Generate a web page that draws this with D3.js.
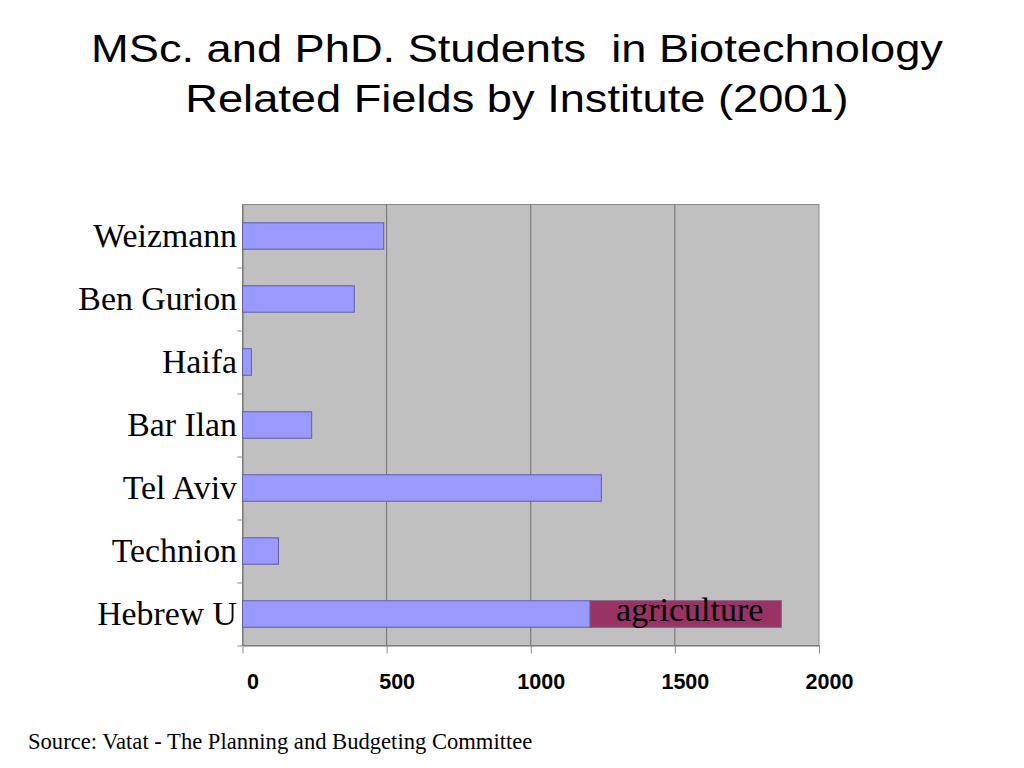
<!DOCTYPE html>
<html>
<head>
<meta charset="utf-8">
<script src="https://cdn.jsdelivr.net/npm/d3@7"></script>
<style>
  body { margin: 0; background: #fff; }
  svg { display: block; }
  text { white-space: pre; }
</style>
</head>
<body>
<svg id="chart" width="1024" height="768"></svg>
<script>
const titleLines = ["MSc. and PhD. Students  in Biotechnology", "Related Fields by Institute (2001)"];
const categories = ["Weizmann", "Ben Gurion", "Haifa", "Bar Ilan", "Tel Aviv", "Technion", "Hebrew U"];
const biotechValues = [490, 388, 31, 240, 1245, 125, 1206];
const agricultureValues = [0, 0, 0, 0, 0, 0, 663];
const segmentLabels = ["", "", "", "", "", "", "agriculture"];
const xTicks = [0, 500, 1000, 1500, 2000];
const sourceText = "Source: Vatat - The Planning and Budgeting Committee";

const svg = d3.select("#chart");
const plot = { left: 242.5, right: 819, top: 204.5, bottom: 645.5 };

const x = d3.scaleLinear().domain([0, 2000]).range([plot.left, plot.right]);
const y = d3.scaleBand().domain(categories).range([plot.top, plot.bottom])
  .paddingInner(0.58).paddingOuter(0.29);

// Title (horizontally stretched like the original slide)
svg.append("g")
  .attr("transform", "translate(517,0) scale(1.19,1)")
  .append("text")
  .attr("text-anchor", "middle")
  .attr("font-family", "Liberation Sans, Arial, sans-serif")
  .attr("font-size", 38)
  .attr("fill", "#000")
  .selectAll("tspan").data(titleLines).join("tspan")
  .attr("x", 0).attr("y", (d, i) => 62.5 + i * 50)
  .text(d => d);

// Plot background
svg.append("rect")
  .attr("x", plot.left).attr("y", plot.top)
  .attr("width", plot.right - plot.left).attr("height", plot.bottom - plot.top)
  .attr("fill", "#c0c0c0").attr("stroke", "#8a8a8a").attr("stroke-width", 1);

// Gridlines
svg.append("g").selectAll("line").data(xTicks.slice(1, -1)).join("line")
  .attr("x1", d => x(d)).attr("x2", d => x(d))
  .attr("y1", plot.top).attr("y2", plot.bottom)
  .attr("stroke", "#6e6e6e").attr("stroke-width", 1);

// X axis
const xAxis = svg.append("g")
  .attr("transform", `translate(0,${plot.bottom})`)
  .call(d3.axisBottom(x).tickValues(xTicks).tickFormat(d3.format("d"))
    .tickSize(8).tickSizeOuter(0).tickPadding(20));
xAxis.select(".domain").attr("stroke", "#6e6e6e");
xAxis.selectAll(".tick line").attr("stroke", "#8a8a8a");
xAxis.selectAll(".tick text")
  .attr("dx", 10)
  .attr("font-family", "Liberation Sans, Arial, sans-serif")
  .attr("font-weight", "bold")
  .attr("font-size", 21.5)
  .attr("fill", "#000");

// Y axis (ticks between categories)
const yLin = d3.scaleLinear().domain([0, categories.length]).range([plot.top, plot.bottom]);
const yAxis = svg.append("g")
  .attr("transform", `translate(${plot.left},0)`)
  .call(d3.axisLeft(yLin).tickValues(d3.range(1, categories.length + 1))
    .tickSize(5).tickSizeOuter(0).tickFormat(""));
yAxis.select(".domain").attr("stroke", "#6e6e6e");
yAxis.selectAll(".tick line").attr("stroke", "#8a8a8a");

// Category labels
svg.append("g").selectAll("text").data(categories).join("text")
  .attr("x", 237)
  .attr("y", d => y(d) + y.bandwidth() / 2 + 10.5)
  .attr("text-anchor", "end")
  .attr("font-family", "Liberation Serif, Times New Roman, serif")
  .attr("font-size", 33.8)
  .attr("fill", "#000")
  .text(d => d);

// Biotech bars
svg.append("g").selectAll("rect").data(categories).join("rect")
  .attr("x", x(0))
  .attr("y", d => y(d))
  .attr("width", (d, i) => x(biotechValues[i]) - x(0))
  .attr("height", y.bandwidth())
  .attr("fill", "#9999ff")
  .attr("stroke", "#5f5fa8").attr("stroke-width", 1);

// Agriculture segments
const agIdx = categories.map((d, i) => i).filter(i => agricultureValues[i] > 0);
svg.append("g").selectAll("rect").data(agIdx).join("rect")
  .attr("x", i => x(biotechValues[i]))
  .attr("y", i => y(categories[i]))
  .attr("width", i => x(biotechValues[i] + agricultureValues[i]) - x(biotechValues[i]))
  .attr("height", y.bandwidth())
  .attr("fill", "#993366")
  .attr("stroke", "#7a5a7a").attr("stroke-width", 1);

svg.append("g").selectAll("text").data(agIdx).join("text")
  .attr("x", i => x(biotechValues[i] + agricultureValues[i] / 2) + 4)
  .attr("y", i => y(categories[i]) + y.bandwidth() / 2 + 7)
  .attr("text-anchor", "middle")
  .attr("font-family", "Liberation Serif, Times New Roman, serif")
  .attr("font-size", 34)
  .attr("fill", "#000")
  .text(i => segmentLabels[i]);

// Source
svg.append("text")
  .attr("x", 28).attr("y", 749)
  .attr("font-family", "Liberation Serif, Times New Roman, serif")
  .attr("font-size", 22.6)
  .attr("fill", "#000")
  .text(sourceText);
</script>
</body>
</html>
